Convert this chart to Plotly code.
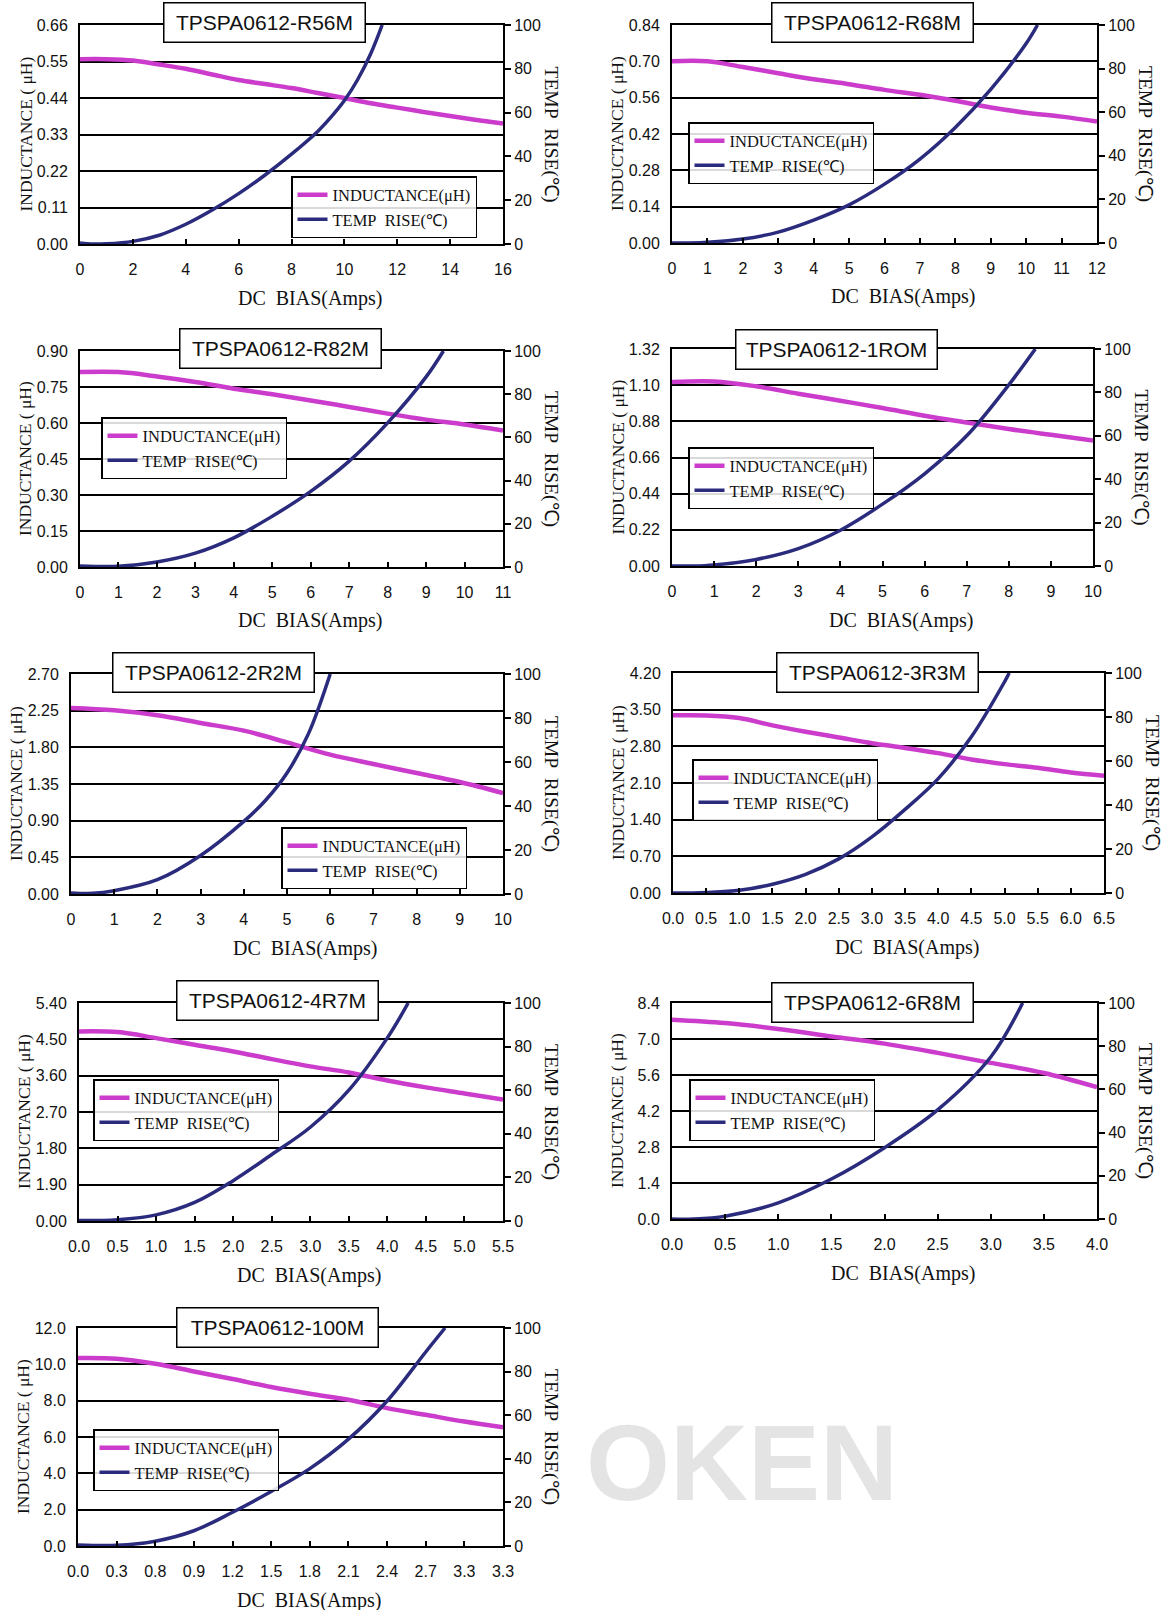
import plotly.graph_objects as go

W, H = 1172, 1610

# ---------------- data ----------------
titles = ["TPSPA0612-R56M", "TPSPA0612-R68M", "TPSPA0612-R82M", "TPSPA0612-1ROM",
          "TPSPA0612-2R2M", "TPSPA0612-3R3M", "TPSPA0612-4R7M", "TPSPA0612-6R8M",
          "TPSPA0612-100M"]

# R56M
r56m_ind_x = [0, 1, 2, 3, 4, 5, 6, 7, 8, 9, 10, 11, 12, 13, 14, 15, 16]
r56m_ind = [0.557, 0.557, 0.553, 0.541, 0.528, 0.511, 0.494, 0.482, 0.470, 0.455, 0.440,
            0.424, 0.411, 0.398, 0.386, 0.374, 0.363]
r56m_temp_x = [0, 0.5, 1, 2, 3, 4, 5, 6, 7, 8, 9, 9.5, 10, 10.5, 11, 11.43]
r56m_temp = [0.5, 0, 0.1, 1.2, 4, 9, 15.5, 23, 31.5, 41, 51.5, 58, 65.5, 75, 87, 100]
r56m_xticks = ["0", "2", "4", "6", "8", "10", "12", "14", "16"]
r56m_lticks = ["0.00", "0.11", "0.22", "0.33", "0.44", "0.55", "0.66"]

# R68M
r68m_ind_x = [0, 1, 2, 3, 4, 5, 6, 7, 8, 9, 10, 11, 12]
r68m_ind = [0.700, 0.700, 0.678, 0.654, 0.631, 0.612, 0.590, 0.571, 0.548, 0.522, 0.502, 0.487, 0.468]
r68m_temp_x = [0, 0.5, 1, 2, 3, 4, 5, 6, 7, 8, 9, 10, 10.32]
r68m_temp = [0, 0, 0.3, 1.8, 5, 10.5, 17.5, 27, 38.5, 53, 70.5, 91.5, 100]
r68m_xticks = ["0", "1", "2", "3", "4", "5", "6", "7", "8", "9", "10", "11", "12"]
r68m_lticks = ["0.00", "0.14", "0.28", "0.42", "0.56", "0.70", "0.84"]

# R82M
r82m_ind_x = [0, 1, 2, 3, 4, 5, 6, 7, 8, 9, 10, 11]
r82m_ind = [0.812, 0.812, 0.794, 0.771, 0.743, 0.720, 0.694, 0.667, 0.639, 0.614, 0.594, 0.569]
r82m_temp_x = [0, 1, 2, 3, 4, 5, 6, 7, 8, 9, 9.45]
r82m_temp = [0.5, 0.3, 2.3, 6.4, 13.5, 23.5, 35, 49, 66.7, 88, 100]
r82m_xticks = ["0", "1", "2", "3", "4", "5", "6", "7", "8", "9", "10", "11"]
r82m_lticks = ["0.00", "0.15", "0.30", "0.45", "0.60", "0.75", "0.90"]

# 1R0M
r1r0m_ind_x = [0, 1, 2, 3, 4, 5, 6, 7, 8, 9, 10]
r1r0m_ind = [1.119, 1.123, 1.093, 1.048, 1.005, 0.961, 0.914, 0.873, 0.833, 0.798, 0.764]
r1r0m_temp_x = [0, 0.5, 1, 2, 3, 4, 5, 6, 7, 8, 8.63]
r1r0m_temp = [0, 0, 0.5, 3, 8, 16.5, 28.5, 42.5, 60, 83.5, 100]
r1r0m_xticks = ["0", "1", "2", "3", "4", "5", "6", "7", "8", "9", "10"]
r1r0m_lticks = ["0.00", "0.22", "0.44", "0.66", "0.88", "1.10", "1.32"]

# 2R2M
r2r2m_ind_x = [0, 1, 2, 3, 4, 5, 6, 7, 8, 9, 10]
r2r2m_ind = [2.283, 2.254, 2.193, 2.099, 2.005, 1.860, 1.710, 1.595, 1.485, 1.375, 1.240]
r2r2m_temp_x = [0, 0.5, 1, 2, 3, 4, 4.5, 5, 5.5, 6.0]
r2r2m_temp = [0.5, 0.3, 1.5, 6.5, 17.5, 33, 42.5, 55, 73, 100]
r2r2m_xticks = ["0", "1", "2", "3", "4", "5", "6", "7", "8", "9", "10"]
r2r2m_lticks = ["0.00", "0.45", "0.90", "1.35", "1.80", "2.25", "2.70"]

# 3R3M
r3r3m_ind_x = [0, 0.5, 1, 1.5, 2, 2.5, 3, 3.5, 4, 4.5, 5, 5.5, 6, 6.5]
r3r3m_ind = [3.392, 3.390, 3.340, 3.200, 3.080, 2.970, 2.860, 2.770, 2.670, 2.550, 2.460, 2.390, 2.300, 2.240]
r3r3m_temp_x = [0, 0.3, 0.5, 1, 1.5, 2, 2.5, 3, 3.5, 4, 4.5, 5, 5.07]
r3r3m_temp = [0, 0, 0.2, 1.2, 4, 8.5, 15.5, 25.5, 38, 52, 71, 96, 100]
r3r3m_xticks = ["0.0", "0.5", "1.0", "1.5", "2.0", "2.5", "3.0", "3.5", "4.0", "4.5", "5.0", "5.5", "6.0", "6.5"]
r3r3m_lticks = ["0.00", "0.70", "1.40", "2.10", "2.80", "3.50", "4.20"]

# 4R7M
r4r7m_ind_x = [0, 0.5, 1, 1.5, 2, 2.5, 3, 3.5, 4, 4.5, 5, 5.5]
r4r7m_ind = [4.696, 4.680, 4.530, 4.365, 4.200, 4.010, 3.830, 3.680, 3.480, 3.310, 3.160, 3.010]
r4r7m_temp_x = [0, 0.5, 1, 1.5, 2, 2.5, 3, 3.5, 4, 4.27]
r4r7m_temp = [0.2, 0.6, 2.8, 8.5, 18.5, 30.5, 43, 60, 84, 100]
r4r7m_xticks = ["0.0", "0.5", "1.0", "1.5", "2.0", "2.5", "3.0", "3.5", "4.0", "4.5", "5.0", "5.5"]
r4r7m_lticks = ["0.00", "1.90", "1.80", "2.70", "3.60", "4.50", "5.40"]

# 6R8M
r6r8m_ind_x = [0, 0.5, 1, 1.5, 2, 2.5, 3, 3.5, 4]
r6r8m_ind = [7.75, 7.62, 7.39, 7.10, 6.82, 6.46, 6.07, 5.68, 5.13]
r6r8m_temp_x = [0, 0.2, 0.5, 1, 1.5, 2, 2.5, 3, 3.3]
r6r8m_temp = [0, 0, 1.3, 7.5, 18.5, 33, 50.5, 75, 100]
r6r8m_xticks = ["0.0", "0.5", "1.0", "1.5", "2.0", "2.5", "3.0", "3.5", "4.0"]
r6r8m_lticks = ["0.0", "1.4", "2.8", "4.2", "5.6", "7.0", "8.4"]

# 100M
r100m_ind_x = [0, 0.3, 0.6, 0.9, 1.2, 1.5, 1.8, 2.1, 2.4, 2.7, 3.0, 3.3]
r100m_ind = [10.35, 10.31, 10.03, 9.61, 9.19, 8.75, 8.38, 8.05, 7.59, 7.22, 6.85, 6.54]
r100m_temp_x = [0, 0.3, 0.6, 0.9, 1.2, 1.5, 1.8, 2.1, 2.4, 2.7, 2.85]
r100m_temp = [0.5, 0.3, 2.2, 7, 15.5, 25, 35.5, 49, 66.5, 89, 100]
r100m_xticks = ["0.0", "0.3", "0.8", "0.9", "1.2", "1.5", "1.8", "2.1", "2.4", "2.7", "3.3", "3.3"]
r100m_lticks = ["0.0", "2.0", "4.0", "6.0", "8.0", "10.0", "12.0"]

temp_ticks = ["0", "20", "40", "60", "80", "100"]

# axis steps (x step, inductance step)
x_steps = [2, 1, 1, 1, 1, 0.5, 0.5, 0.5, 0.3]
l_steps = [0.11, 0.14, 0.15, 0.22, 0.45, 0.70, 0.90, 1.4, 2.0]

ind_x_sets = [r56m_ind_x, r68m_ind_x, r82m_ind_x, r1r0m_ind_x, r2r2m_ind_x, r3r3m_ind_x, r4r7m_ind_x, r6r8m_ind_x, r100m_ind_x]
ind_sets = [r56m_ind, r68m_ind, r82m_ind, r1r0m_ind, r2r2m_ind, r3r3m_ind, r4r7m_ind, r6r8m_ind, r100m_ind]
temp_x_sets = [r56m_temp_x, r68m_temp_x, r82m_temp_x, r1r0m_temp_x, r2r2m_temp_x, r3r3m_temp_x, r4r7m_temp_x, r6r8m_temp_x, r100m_temp_x]
temp_sets = [r56m_temp, r68m_temp, r82m_temp, r1r0m_temp, r2r2m_temp, r3r3m_temp, r4r7m_temp, r6r8m_temp, r100m_temp]
xtick_sets = [r56m_xticks, r68m_xticks, r82m_xticks, r1r0m_xticks, r2r2m_xticks, r3r3m_xticks, r4r7m_xticks, r6r8m_xticks, r100m_xticks]
ltick_sets = [r56m_lticks, r68m_lticks, r82m_lticks, r1r0m_lticks, r2r2m_lticks, r3r3m_lticks, r4r7m_lticks, r6r8m_lticks, r100m_lticks]

# ---------------- layout geometry (pixels) ----------------
# plot boxes: left, right, top, bottom
boxes = [(80, 503, 25, 244), (672, 1097, 25, 243),
         (80, 503, 351, 567), (672, 1093, 349, 566),
         (71, 503, 674, 894), (673, 1104, 673, 893),
         (79, 503, 1003, 1221), (672, 1097, 1003, 1219),
         (78, 503, 1328, 1546)]
title_centers = [(264, 23), (872, 23), (280, 349), (836, 350), (213, 672),
                 (877, 672), (277, 1001), (872, 1002), (277, 1327)]
legend_pos = [(291, 176), (688, 122), (101, 417), (688, 447), (281, 827),
              (692, 759), (93, 1079), (689, 1079), (93, 1429)]

MAG = "#CC3CCC"
NAVY = "#2B2B7E"
TICKFONT = dict(family="Liberation Sans", size=16, color="#111")
SERIF = "Liberation Serif"
NB = "\u00a0"


def fx(px):
    return px / W


def fy(py):
    return 1 - py / H


fig = go.Figure()
layout = dict(width=W, height=H, margin=dict(l=0, r=0, t=0, b=0, pad=0),
              paper_bgcolor="white", plot_bgcolor="rgba(0,0,0,0)",
              showlegend=True, annotations=[])

# faded watermark behind the empty lower-right area
layout["annotations"].append(dict(
    text="<b>OKEN</b>", x=fx(742), y=fy(1462), xref="paper", yref="paper",
    xanchor="center", yanchor="middle",
    showarrow=False, font=dict(family="Liberation Sans", size=108, color="#e4e4e4")))

for i in range(9):
    L, R, T, B = boxes[i]
    xname = "xaxis" if i == 0 else f"xaxis{i+1}"
    xref = "x" if i == 0 else f"x{i+1}"
    ly, ry = 2 * i + 1, 2 * i + 2
    lyname = "yaxis" if ly == 1 else f"yaxis{ly}"
    lyref = "y" if ly == 1 else f"y{ly}"
    ryname, ryref = f"yaxis{ry}", f"y{ry}"
    legname = "legend" if i == 0 else f"legend{i+1}"

    xt = xtick_sets[i]
    lt = ltick_sets[i]
    xs, ls = x_steps[i], l_steps[i]
    xvals = [round(k * xs, 6) for k in range(len(xt))]
    lvals = [round(k * ls, 6) for k in range(len(lt))]

    layout[xname] = dict(domain=[fx(L), fx(R)], anchor=lyref, range=[0, xvals[-1]],
                         tickmode="array", tickvals=xvals, ticktext=xt,
                         ticks="inside", ticklen=5, tickwidth=1.5, tickcolor="black",
                         showline=True, linecolor="black", linewidth=2, mirror=True,
                         showgrid=False, zeroline=False, tickfont=TICKFONT,
                         ticklabelstandoff=10, automargin=False)
    layout[lyname] = dict(domain=[fy(B), fy(T)], anchor=xref, range=[0, lvals[-1]],
                          tickmode="array", tickvals=lvals, ticktext=lt,
                          ticks="", showgrid=True, gridcolor="black", gridwidth=1.5,
                          showline=True, linecolor="black", linewidth=2,
                          zeroline=False, tickfont=TICKFONT, ticklabelstandoff=7,
                          automargin=False)
    layout[ryname] = dict(overlaying=lyref, side="right", anchor=xref, range=[0, 100],
                          tickmode="array", tickvals=[0, 20, 40, 60, 80, 100], ticktext=temp_ticks,
                          ticks="outside", ticklen=6, tickwidth=1.5, tickcolor="black",
                          showgrid=False, showline=True, linecolor="black", linewidth=2,
                          zeroline=False, tickfont=TICKFONT, automargin=False)

    fig.add_trace(go.Scatter(x=ind_x_sets[i], y=ind_sets[i], xaxis=xref, yaxis=lyref,
                             mode="lines", line=dict(color=MAG, width=4.5, shape="spline", smoothing=1.0),
                             name="INDUCTANCE(μH)", legend=legname))
    fig.add_trace(go.Scatter(x=temp_x_sets[i], y=temp_sets[i], xaxis=xref, yaxis=ryref,
                             mode="lines", line=dict(color=NAVY, width=3.5, shape="spline", smoothing=1.0),
                             name=f"TEMP{NB} RISE(℃)", legend=legname))

    lx, lyp = legend_pos[i]
    layout[legname] = dict(x=fx(lx), y=fy(lyp), xanchor="left", yanchor="top",
                           bordercolor="black", borderwidth=1.5, bgcolor="rgba(255,255,255,0.85)",
                           font=dict(family=SERIF, size=16.5, color="#111"),
                           tracegroupgap=0, itemclick=False)

    cx, cy = title_centers[i]
    layout["annotations"].append(dict(
        text=titles[i], x=fx(cx), y=fy(cy), xref="paper", yref="paper", showarrow=False,
        xanchor="center", yanchor="middle", bordercolor="black", borderwidth=1.5,
        width=188, height=26, align="center",
        borderpad=6, bgcolor="white", font=dict(family="Liberation Sans", size=21, color="#111")))
    # axis titles
    layout["annotations"].append(dict(
        text=f"DC{NB} BIAS(Amps)", x=fx((L + R) / 2 + 18), y=fy(B + 54), xref="paper", yref="paper",
        showarrow=False, xanchor="center", yanchor="middle",
        font=dict(family=SERIF, size=20, color="#111")))
    layout["annotations"].append(dict(
        text="INDUCTANCE ( μH)", x=fx(L - 55), y=fy((T + B) / 2), xref="paper", yref="paper",
        showarrow=False, xanchor="center", yanchor="middle", textangle=-90,
        font=dict(family=SERIF, size=17.5, color="#111")))
    layout["annotations"].append(dict(
        text=f"TEMP{NB} RISE(℃)", x=fx(R + 48), y=fy((T + B) / 2), xref="paper", yref="paper",
        showarrow=False, xanchor="center", yanchor="middle", textangle=90,
        font=dict(family=SERIF, size=19.5, color="#111")))

fig.update_layout(**layout)
fig.write_html("out.html", config={"displayModeBar": False},
               post_script="document.body.style.margin='0';document.body.style.overflow='hidden';")
